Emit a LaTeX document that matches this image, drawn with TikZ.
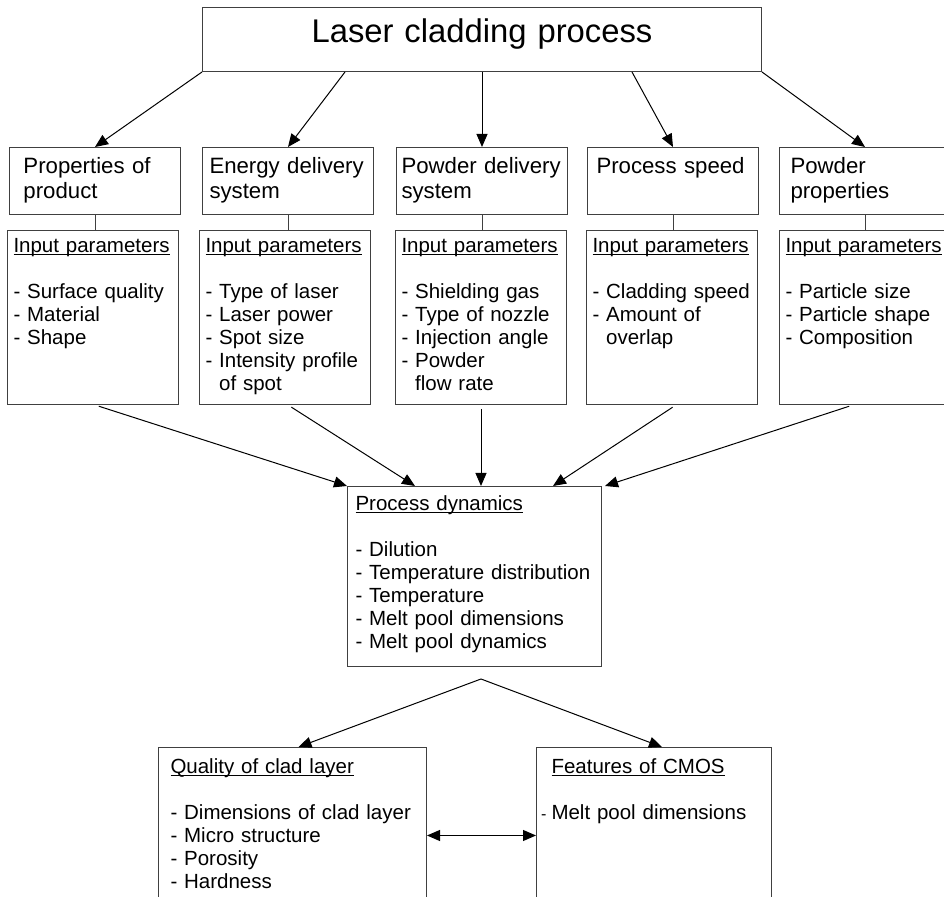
\documentclass[tikz,border=0pt]{standalone}
\usepackage{fontspec}
\setmainfont{Liberation Sans}
\usepackage{tikz}
\usetikzlibrary{positioning,arrows.meta}
\usepackage{xcolor}
\hyphenpenalty=10000
\exhyphenpenalty=10000

\newsavebox{\undlbox}
\newcommand{\undl}[1]{\leavevmode\sbox{\undlbox}{#1}\rlap{\rule[-1.1pt]{\wd\undlbox}{0.5pt}}\usebox{\undlbox}}

\tikzset{
  frame/.style={draw=black!75, line width=0.5pt, rectangle, anchor=north west, align=left, inner ysep=0pt},
  head/.style={frame, font=\fontsize{11.1}{12.5}\selectfont, inner xsep=4.5pt, text width=76.5pt, text height=13pt, text depth=20.5pt},
  params/.style={frame, font=\fontsize{10.25}{11.5}\selectfont, inner xsep=3pt, text width=79.5pt, text height=11pt, text depth=76pt},
  result/.style={frame, font=\fontsize{10.25}{11.5}\selectfont, text height=13pt, text depth=75pt},
  arr/.style={-{Triangle[length=6.5pt,width=5.5pt]}, line width=0.5pt},
  arr2/.style={{Triangle[length=6.5pt,width=5.5pt]}-{Triangle[length=6.5pt,width=5.5pt]}, line width=0.5pt},
  link/.style={draw=black!75, line width=0.5pt}
}

\begin{document}
\begin{tikzpicture}[x=0.5pt,y=-0.5pt]
                \useasboundingbox (0,0) rectangle (944,897);
                \clip (0,0) rectangle (944,897);

                \node[frame, font=\fontsize{16.4}{19}\selectfont, align=center, inner xsep=0pt, text width=279.5pt, text height=17.5pt, text depth=14.5pt](process) at (202,7){Laser cladding process};

                \node[head, inner xsep=7pt, text width=71.5pt](prop) at (9,147){Properties of\\product};
                \node[head, inner xsep=3.5pt, text width=78.5pt](energy) at (202,147){Energy delivery\\system};
                \node[head, inner xsep=2.5pt, text width=80.5pt](feed) at (396,147){Powder delivery\\system};
                \node[head](speed) at (587,147){Process speed};
                \node[head, inner xsep=5.5pt, text width=74.5pt](powder) at (779,147){Powder\\properties};

                \node[params](prop-in) at (7,230){\undl{Input parameters}\\[11.5pt]
                  - Surface quality\\- Material\\- Shape};
                \node[params](energy-in) at (199,230){\undl{Input parameters}\\[11.5pt]
                  - Type of laser\\- Laser power\\- Spot size\\- Intensity profile\\\phantom{- }of spot};
                \node[params](feed-in) at (395,230){\undl{Input parameters}\\[11.5pt]
                  - Shielding gas\\- Type of nozzle\\- Injection angle\\- Powder\\\phantom{- }flow rate};
                \node[params](speed-in) at (586,230){\undl{Input parameters}\\[11.5pt]
                  - Cladding speed\\- Amount of\\\phantom{- }overlap};
                \node[params](powder-in) at (779,230){\undl{Input parameters}\\[11.5pt]
                  - Particle size\\- Particle shape\\- Composition};

                \node[frame, font=\fontsize{10.25}{11.5}\selectfont, inner xsep=4pt, text width=119pt, text height=12pt, text depth=78pt](dynamics) at (347,486){\undl{Process dynamics}\\[11.5pt]
                  - Dilution\\- Temperature distribution\\- Temperature\\- Melt pool dimensions\\- Melt pool dynamics};

                \coordinate (fork) at (481,679);

                \node[result, inner xsep=6pt, text width=122pt](quality) at (158,747){\undl{Quality of clad layer}\\[11.5pt]
                  - Dimensions of clad layer\\- Micro structure\\- Porosity\\- Hardness};
                \node[result, inner xsep=7.5pt, text width=102.5pt](cmos) at (536,747){\undl{Features of CMOS}\\[11.5pt]
                  \leavevmode\llap{\fontsize{8}{8}\selectfont -\hspace{2.5pt}}Melt pool dimensions};

                % top level to the five groups
                \draw[arr] (process.south west) -- (prop.north);
                \draw[arr] ([xshift=71.5pt]process.south west) -- (energy.north);
                \draw[arr] (process.south) -- (process.south |- feed.north);
                \draw[arr] ([xshift=-65pt]process.south east) -- (speed.north);
                \draw[arr] (process.south east) -- (powder.north);

                \path[link] (prop.south) -- (prop.south |- prop-in.north);
                \path[link] (energy.south) -- (energy.south |- energy-in.north);
                \path[link] (feed.south) -- (feed.south |- feed-in.north);
                \path[link] (speed.south) -- (speed.south |- speed-in.north);
                \path[link] (powder.south) -- (powder.south |- powder-in.north);

                % parameters into the process dynamics
                \draw[arr, shorten <=2pt] ([xshift=1pt]prop-in.south) -- (dynamics.north west);
                \draw[arr, shorten <=2pt] ([xshift=1.5pt]energy-in.south) -- ([xshift=34pt]dynamics.north west);
                \draw[arr, shorten <=2pt] (feed-in.south) -- (feed-in.south |- dynamics.north);
                \draw[arr, shorten <=2pt] ([xshift=2pt]speed-in.south) -- ([xshift=-24.5pt]dynamics.north east);
                \draw[arr, shorten <=2pt] ([xshift=-6pt]powder-in.south) -- ([xshift=1.5pt]dynamics.north east);

                \draw[arr] (fork) -- ([xshift=3pt]quality.north);
                \draw[arr] (fork) -- ([xshift=4pt]cmos.north);
                \draw[arr2] (quality.east) -- (cmos.west);

                \end{tikzpicture}
\end{document}
